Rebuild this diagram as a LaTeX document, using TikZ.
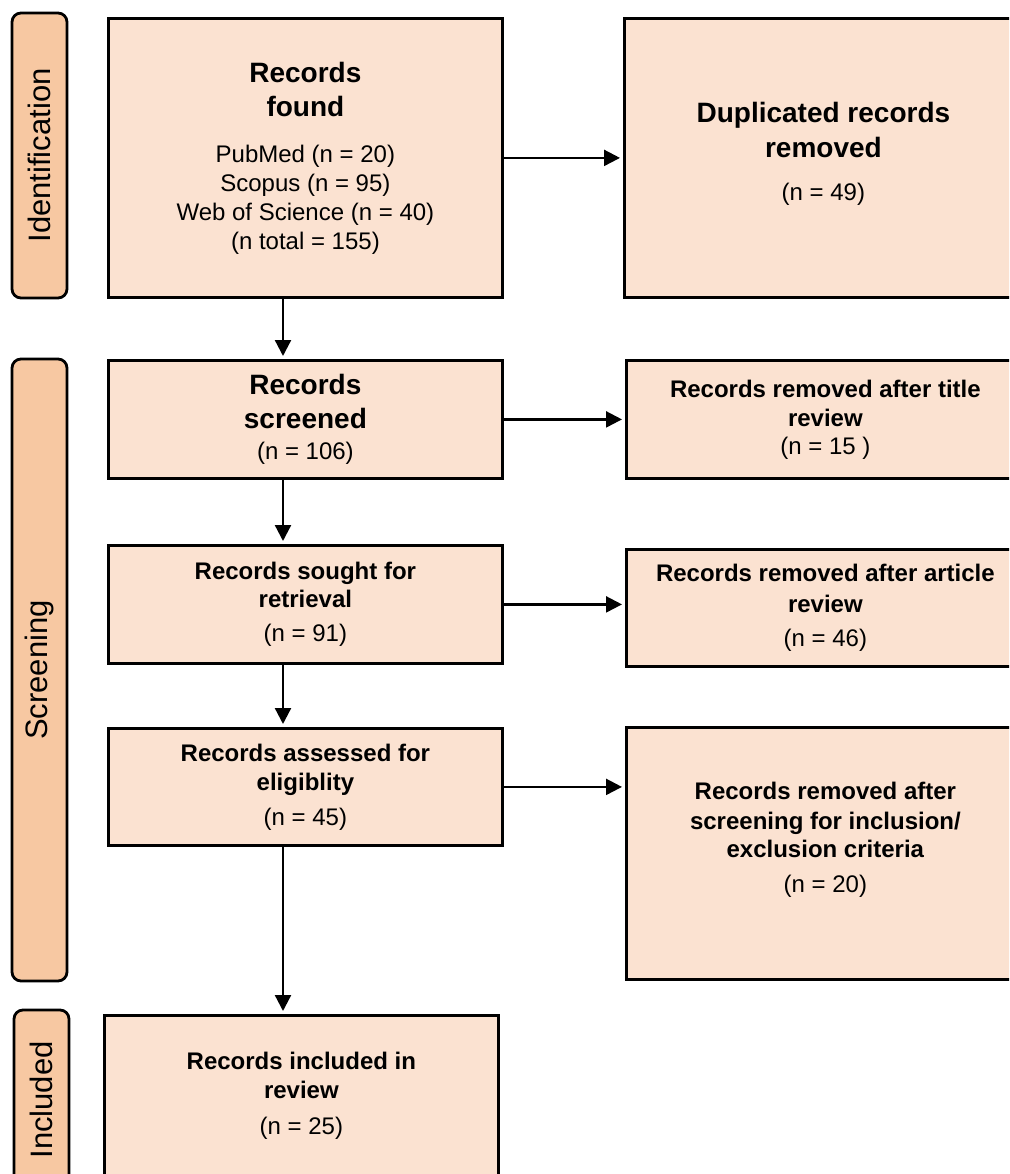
\documentclass[tikz,border=0pt]{standalone}
\usepackage{fontspec}
\setmainfont{Liberation Sans}
\usetikzlibrary{arrows.meta}
\definecolor{boxfill}{RGB}{251,226,209}
\definecolor{tabfill}{RGB}{247,200,162}
\def\bigt#1{{\fontsize{28}{29}\selectfont\bfseries #1}}

\begin{document}
\begin{tikzpicture}
[x=1pt, y=-1pt,
 box/.style={draw, line width=2.8pt, fill=boxfill, anchor=north west,
   inner sep=0pt, align=center, font=\fontsize{24}{29}\selectfont},
 tab/.style={draw, line width=2.8pt, fill=tabfill, rounded corners=9pt,
   rotate=90, inner sep=0pt, minimum height=55pt, font=\fontsize{31}{31}\selectfont},
 arr/.style={line width=2.3pt, shorten >=3pt, -{Triangle[length=16pt, width=16pt]}}]

\clip (0,0) rectangle (1009,1174);
\coordinate (spine) at (283,0);

% stage tabs
\node [tab, minimum width=285pt] (ident) at (39.5,155.5) {Identification};
\node [tab, minimum width=622pt] (screen) at (39.5,670) {Screening};
\node [tab, minimum width=180pt] (incl) at (41.5,1100) {Included};


% main column
\node [box, minimum width=394pt, minimum height=279pt] (found) at (107,17)
  {\bigt{Records}\\[5pt] \bigt{found}\\[17pt]
   PubMed (n = 20)\\ Scopus (n = 95)\\ Web of Science (n = 40)\\ (n total = 155)};

\node [box, minimum width=394pt, minimum height=118pt] (screened) at (107,359)
  {\bigt{Records}\\[5pt] \bigt{screened}\\[2pt] (n = 106)};

\node [box, minimum width=394pt, minimum height=118pt] (sought) at (107,544)
  {\textbf{Records sought for}\\[-1pt] \textbf{retrieval}\\[5pt] (n = 91)};

\node [box, minimum width=394pt, minimum height=117pt] (assessed) at (107,727)
  {\textbf{Records assessed for}\\ \textbf{eligiblity}\\[6pt] (n = 45)};

\node [box, minimum width=394pt, minimum height=180pt] (included) at (103,1014)
  {\textbf{Records included in}\\ \textbf{review}\\[7pt] (n = 25)\rule[-24pt]{0pt}{24pt}};


% removed records
\node [box, minimum width=398pt, minimum height=279pt] (dup) at (623,17)
  {\bigt{Duplicated records}\\[6pt] \bigt{removed}\\[14pt] (n = 49)\rule[-14pt]{0pt}{14pt}};

\node [box, minimum width=398pt, minimum height=118pt] (title) at (625,359)
  {\textbf{Records removed after title}\\ \textbf{review}\\[-1pt] (n = 15 )};

\node [box, minimum width=398pt, minimum height=117pt] (article) at (625,548)
  {\textbf{Records removed after article}\\[2pt] \textbf{review}\\[5pt] (n = 46)};

\node [box, minimum width=398pt, minimum height=252pt] (criteria) at (625,726)
  {\textbf{Records removed after}\\[1pt] \textbf{screening for inclusion/}\\[-1pt]
   \textbf{exclusion criteria}\\[6pt] (n = 20)\rule[-32pt]{0pt}{32pt}};


\draw [arr] (found.south -| spine) -- (screened.north -| spine);
\draw [arr] (screened.south -| spine) -- (sought.north -| spine);
\draw [arr] (sought.south -| spine) -- (assessed.north -| spine);
\draw [arr] (assessed.south -| spine) -- (included.north -| spine);

\draw [arr] (found.east) -- (dup.west);
\draw [arr] (screened.east) -- (title.west);
\draw [arr] (sought.east) -- (sought.east -| article.west);
\draw [arr] (assessed.east) -- (assessed.east -| criteria.west);

\end{tikzpicture}
\end{document}
